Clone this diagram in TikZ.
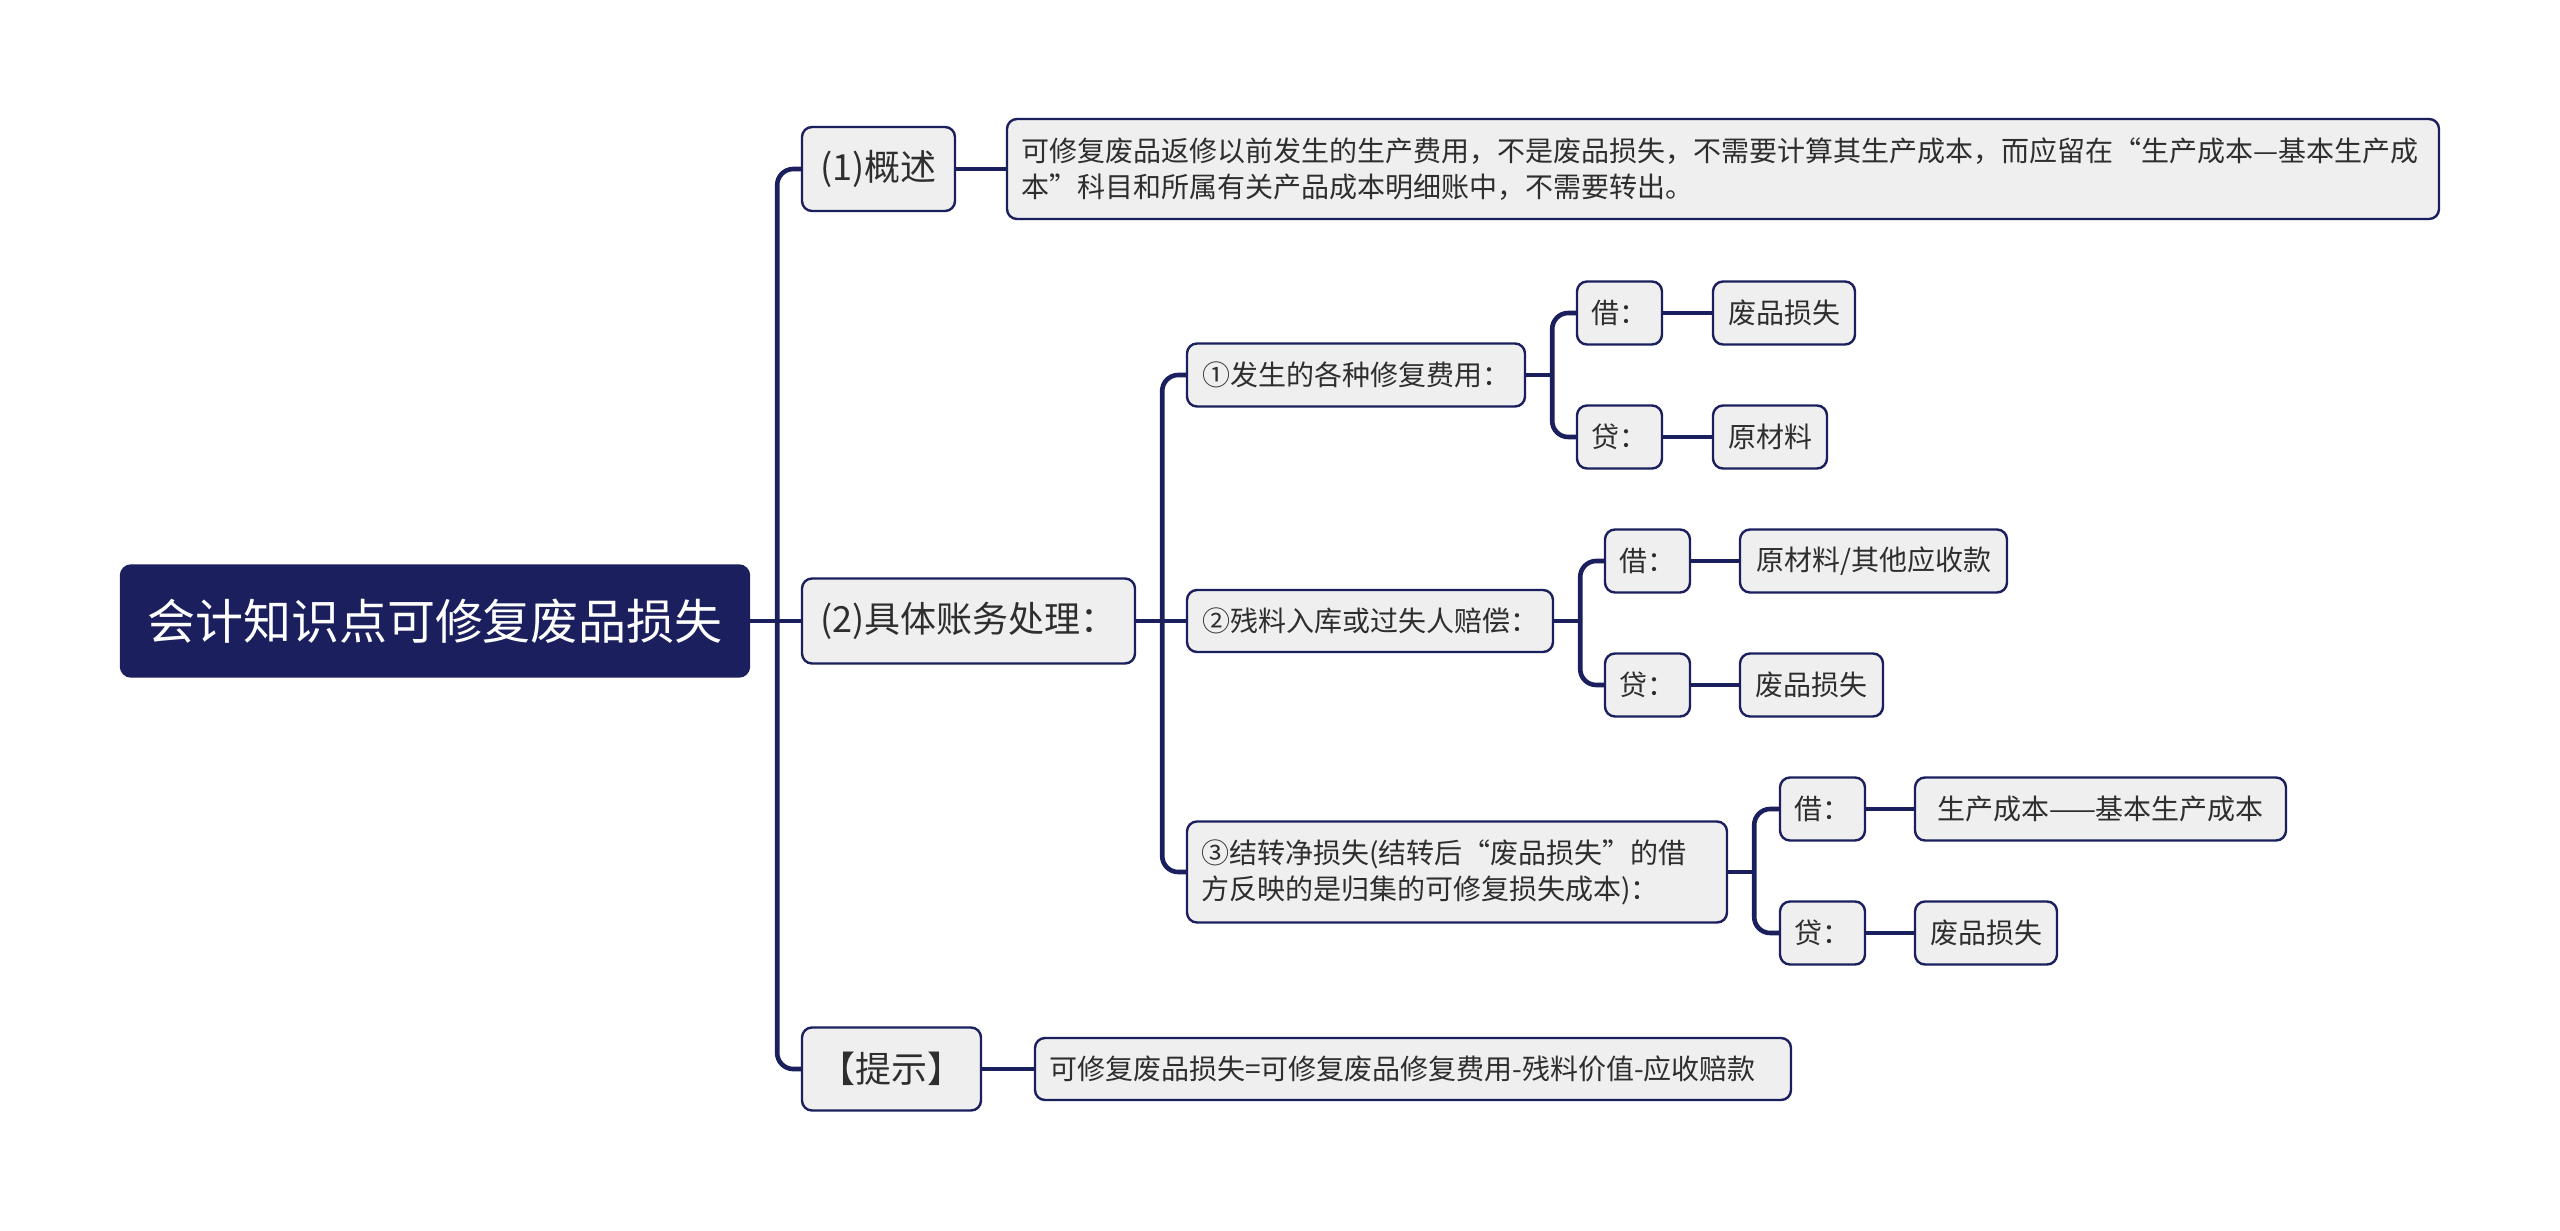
\documentclass[tikz,border=0pt]{standalone}
\usepackage{fontspec}
\setmainfont{Noto Sans CJK SC}
\usetikzlibrary{calc}
\definecolor{navy}{HTML}{1B1F5E}
\definecolor{boxgray}{HTML}{EFEFEF}
\definecolor{txt}{HTML}{2E2E2E}
\begin{document}
\begin{tikzpicture}[x=0.5pt,y=-0.5pt,
  box/.style={draw=navy, fill=boxgray, line width=1.2pt, rounded corners=5pt,
              inner sep=0pt, text=txt, align=center},
  sz/.style 2 args={minimum width=#1*0.5pt, minimum height=#2*0.5pt},
  conn/.style={draw=navy, line width=2.3pt, rounded corners=8pt},
  fa/.style={font=\fontsize{18}{22}\selectfont},
  fb/.style={font=\fontsize{14}{18}\selectfont}]
\fill[white] (0,0) rectangle (2560,1231);
\useasboundingbox (0,0) rectangle (2560,1231);

% root
\node[box, fill=navy, text=white, sz={628}{111}, font=\fontsize{24}{28}\selectfont] (root) at (435,621) {会计知识点可修复废品损失};

% level 1
\node[box, fa, sz={153}{84}] (l1a) at (878.5,169) {(1)概述};
\node[box, fa, sz={333}{85}] (l1b) at (968.5,621) {(2)具体账务处理：};
\node[box, fa, sz={179}{83}] (l1c) at (891.5,1069) {【提示】};

% level 2
\node[box, fb, sz={1432}{100}, text width=702pt, inner xsep=7pt, align=left] (sum) at (1723,169)
  {可修复废品返修以前发生的生产费用，不是废品损失，不需要计算其生产成本，而应留在“生产成本—基本生产成\\本”科目和所属有关产品成本明细账中，不需要转出。};
\node[box, fb, sz={756}{62}, text width=364pt, inner xsep=7pt, align=left] (tip) at (1413,1069) {可修复废品损失=可修复废品修复费用-残料价值-应收赔款};
\node[box, fb, sz={338}{63}] (c1) at (1356,375) {①发生的各种修复费用：};
\node[box, fb, sz={366}{62}] (c2) at (1370,621) {②残料入库或过失人赔偿：};
\node[box, fb, sz={540}{101}, text width=256pt, inner xsep=7pt, align=left] (c3) at (1457,872)
  {③结转净损失(结转后“废品损失”的借\\方反映的是归集的可修复损失成本)：};

% level 3
\node[box, fb, sz={85}{63}] (d11) at (1619.5,313) {借：};
\node[box, fb, sz={85}{63}] (d12) at (1619.5,437) {贷：};
\node[box, fb, sz={142}{63}] (e11) at (1784,313) {废品损失};
\node[box, fb, sz={114}{63}] (e12) at (1770,437) {原材料};

\node[box, fb, sz={85}{63}] (d21) at (1647.5,561) {借：};
\node[box, fb, sz={85}{63}] (d22) at (1647.5,685) {贷：};
\node[box, fb, sz={267}{63}] (e21) at (1873.5,561) {原材料/其他应收款};
\node[box, fb, sz={143}{63}] (e22) at (1811.5,685) {废品损失};

\node[box, fb, sz={85}{63}] (d31) at (1822.5,809) {借：};
\node[box, fb, sz={85}{63}] (d32) at (1822.5,933) {贷：};
\node[box, fb, sz={371}{63}] (e31) at (2100.5,809) {生产成本——基本生产成本};
\node[box, fb, sz={142}{63}] (e32) at (1986,933) {废品损失};

% connectors
\draw[conn] (root.east) -- ++(27,0) coordinate (t0);
\draw[conn] (t0) |- (l1a.west);
\draw[conn] (t0) -- (l1b.west);
\draw[conn] (t0) |- (l1c.west);
\draw[conn] (l1a.east) -- (sum.west);
\draw[conn] (l1c.east) -- (tip.west);

\draw[conn] (l1b.east) -- ++(26,0) coordinate (t1);
\draw[conn] (t1) |- (c1.west);
\draw[conn] (t1) -- (c2.west);
\draw[conn] (t1) |- (c3.west);

\draw[conn] (c1.east) -- ++(26,0) coordinate (t11);
\draw[conn] (t11) |- (d11.west);
\draw[conn] (t11) |- (d12.west);
\draw[conn] (c2.east) -- ++(26,0) coordinate (t12);
\draw[conn] (t12) |- (d21.west);
\draw[conn] (t12) |- (d22.west);
\draw[conn] (c3.east) -- ++(26,0) coordinate (t13);
\draw[conn] (t13) |- (d31.west);
\draw[conn] (t13) |- (d32.west);

\draw[conn] (d11.east) -- (e11.west);
\draw[conn] (d12.east) -- (e12.west);
\draw[conn] (d21.east) -- (e21.west);
\draw[conn] (d22.east) -- (e22.west);
\draw[conn] (d31.east) -- (e31.west);
\draw[conn] (d32.east) -- (e32.west);
\end{tikzpicture}
\end{document}
